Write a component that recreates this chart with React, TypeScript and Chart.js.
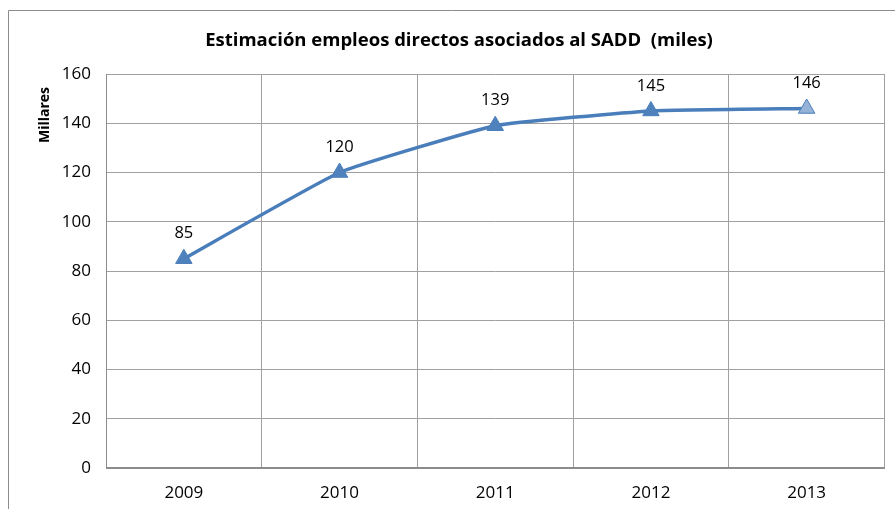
import React, { useEffect, useRef } from "react";
import { Chart, registerables } from "chart.js";

Chart.register(...registerables);

const categories = ["2009", "2010", "2011", "2012", "2013"];
const values = [85, 120, 139, 145, 146];
const pointFills = ["#4F81BD", "#4F81BD", "#4F81BD", "#4F81BD", "#95B3D7"];
const titleText = "Estimación empleos directos asociados al SADD  (miles)";
const yAxisTitle = "Millares";

const FONT = "'Open Sans', 'Noto Sans', sans-serif";

const decor = {
  id: "decor",
  afterDraw(chart: any) {
    const ctx = chart.ctx;
    const area = chart.chartArea;
    ctx.save();
    // outer frame
    ctx.strokeStyle = "#8C8C8C";
    ctx.lineWidth = 1;
    ctx.beginPath();
    ctx.moveTo(8.5, chart.height + 2);
    ctx.lineTo(8.5, 10.5);
    ctx.lineTo(chart.width + 2, 10.5);
    ctx.stroke();
    // title
    ctx.fillStyle = "#000";
    ctx.font = `bold 18.5px ${FONT}`;
    ctx.textAlign = "center";
    ctx.textBaseline = "middle";
    ctx.fillText(titleText, 459, 41);
    // y axis title
    ctx.save();
    ctx.translate(45, 115);
    ctx.rotate(-Math.PI / 2);
    ctx.font = `bold 14px ${FONT}`;
    ctx.fillText(yAxisTitle, 0, 0);
    ctx.restore();
    // data labels
    const meta = chart.getDatasetMeta(0);
    ctx.font = `16.5px ${FONT}`;
    ctx.fillStyle = "#000";
    meta.data.forEach((pt: any, i: number) => {
      ctx.fillText(String(values[i]), pt.x, pt.y - 25);
    });
    // plot border bottom
    ctx.strokeStyle = "#8C8C8C";
    ctx.lineWidth = 2;
    ctx.beginPath();
    ctx.moveTo(area.left, area.bottom);
    ctx.lineTo(area.right, area.bottom);
    ctx.stroke();
    ctx.restore();
  },
};

export default function App() {
  const ref = useRef<HTMLCanvasElement>(null);
  useEffect(() => {
    document.body.style.margin = "0";
    const chart = new Chart(ref.current!, {
      type: "line",
      data: {
        labels: categories,
        datasets: [
          {
            data: values,
            borderColor: "#4A7EBB",
            borderWidth: 3.5,
            tension: 0.12,
            pointStyle: "triangle",
            pointRadius: 9.5,
            pointBackgroundColor: pointFills,
            pointBorderColor: "#4A7EBB",
            pointBorderWidth: 1,
          },
        ],
      },
      options: {
        animation: false,
        responsive: false,
        layout: { padding: { left: 0, top: 74, right: 10, bottom: 0 } },
        plugins: { legend: { display: false }, tooltip: { enabled: false }, title: { display: false } },
        scales: {
          x: {
            offset: true,
            grid: { offset: true, color: "#A0A0A0", drawTicks: false, lineWidth: 1 },
            border: { color: "#8C8C8C", width: 1 },
            ticks: { color: "#000", font: { family: FONT, size: 17 }, padding: 15 },
            afterFit(scale: any) {
              scale.height = 41;
            },
          },
          y: {
            min: 0,
            max: 160,
            ticks: { stepSize: 20, color: "#000", font: { family: FONT, size: 17 }, padding: 15 },
            grid: { color: "#A0A0A0", drawTicks: false, lineWidth: 1 },
            border: { color: "#8C8C8C", width: 1 },
            afterFit(scale: any) {
              scale.width = 106;
            },
          },
        },
      },
      plugins: [decor],
    });
    return () => chart.destroy();
  }, []);
  return <canvas ref={ref} width={895} height={509} style={{ display: "block" }} />;
}
